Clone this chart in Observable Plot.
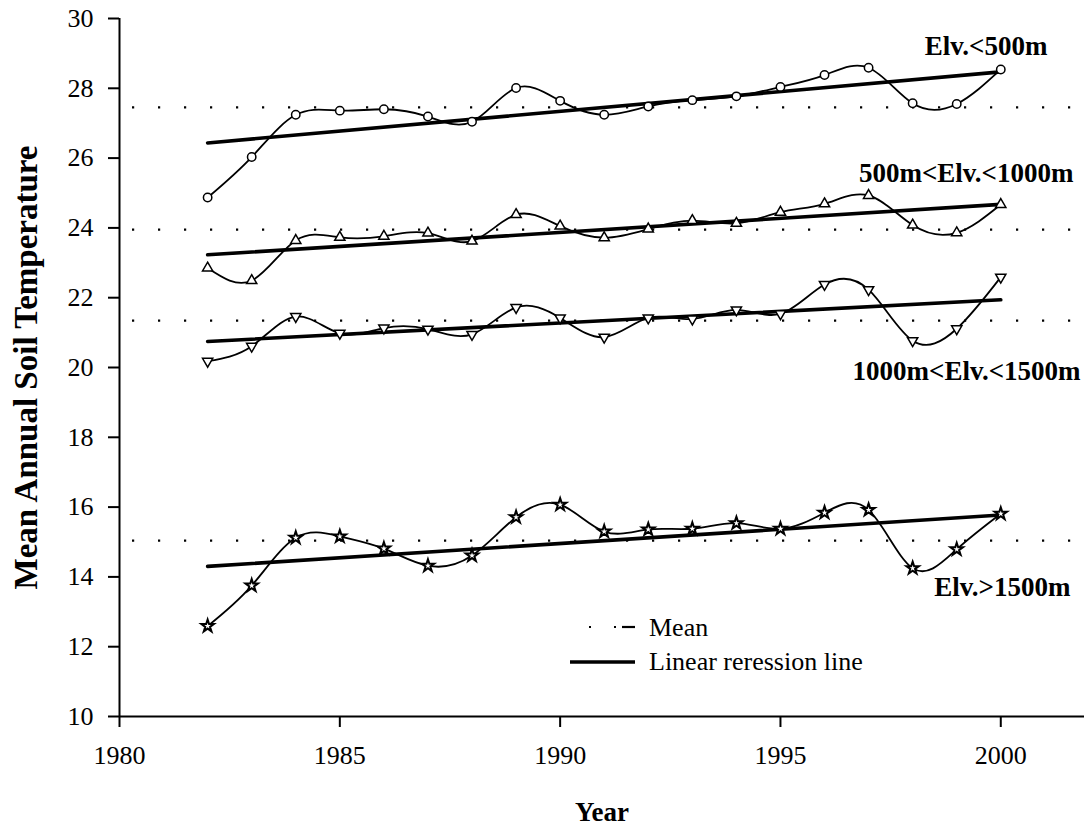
<!DOCTYPE html>
<html>
<head>
<meta charset="utf-8">
<script src="https://cdn.jsdelivr.net/npm/d3@7"></script>
<script src="https://cdn.jsdelivr.net/npm/@observablehq/plot@0.6"></script>
<style>
  html, body { margin: 0; padding: 0; background: #fff; }
  #wrap { position: relative; width: 1084px; height: 832px; }
  #wrap svg g[aria-label*="axis"] { font-size: 26px; }
  #wrap svg g[aria-label*="axis"] text { font-size: 26px; }
  #wrap svg g[aria-label*="axis"] path,
  #wrap svg g[aria-label*="axis"] line { stroke-width: 2px; stroke: #000; }
  #legend { position: absolute; left: 0; top: 0; pointer-events: none; }
</style>
</head>
<body>
<div id="wrap"></div>
<script>
// Survey years
const years = [1982, 1983, 1984, 1985, 1986, 1987, 1988, 1989, 1990, 1991,
               1992, 1993, 1994, 1995, 1996, 1997, 1998, 1999, 2000];

// Mean annual soil temperature (°C) by elevation band
const tempBelow500   = [24.87, 26.03, 27.24, 27.36, 27.40, 27.19, 27.04, 28.01, 27.64, 27.24,
                        27.48, 27.66, 27.77, 28.04, 28.38, 28.59, 27.57, 27.55, 28.54];
const temp500to1000  = [22.85, 22.49, 23.64, 23.73, 23.76, 23.85, 23.62, 24.38, 24.05, 23.72,
                        23.97, 24.21, 24.13, 24.45, 24.69, 24.93, 24.08, 23.86, 24.67];
const temp1000to1500 = [20.18, 20.61, 21.46, 20.98, 21.13, 21.10, 20.95, 21.72, 21.42, 20.87,
                        21.42, 21.39, 21.65, 21.54, 22.38, 22.23, 20.77, 21.11, 22.59];
const tempAbove1500  = [12.59, 13.75, 15.12, 15.16, 14.81, 14.32, 14.61, 15.71, 16.07, 15.30,
                        15.36, 15.38, 15.54, 15.38, 15.84, 15.92, 14.25, 14.79, 15.81];

const seriesNames = ["Elv.<500m", "500m<Elv.<1000m", "1000m<Elv.<1500m", "Elv.>1500m"];

// Where each band's name sits (year, temperature)
const labelYear  = [2001.06, 2001.65, 2001.81, 2001.58];
const labelValue = [29.19, 25.56, 19.90, 13.69];

const xTicks = [1980, 1985, 1990, 1995, 2000];
const yTicks = [10, 12, 14, 16, 18, 20, 22, 24, 26, 28, 30];

// Downward-pointing triangle marker
const triangleDown = {
  draw(context, size) {
    const h = Math.sqrt(size / (Math.sqrt(3) * 3));
    context.moveTo(0, 2 * h);
    context.lineTo(-Math.sqrt(3) * h, -h);
    context.lineTo(Math.sqrt(3) * h, -h);
    context.closePath();
  }
};

const seriesValues = [tempBelow500, temp500to1000, temp1000to1500, tempAbove1500];
const symbols = ["circle", "triangle", triangleDown, "star"];
const radii = [4.2, 3.8, 3.8, 3.9];
const markerStroke = [1.5, 1.5, 1.5, 2];

const rows = seriesValues.flatMap((vals, s) =>
  years.map((year, i) => ({series: seriesNames[s], year, value: vals[i]})));
const means = seriesValues.map(vals => d3.mean(vals));
const labels = seriesNames.map((name, i) => ({name, year: labelYear[i], value: labelValue[i]}));

const dotMarks = seriesNames.map((name, s) =>
  Plot.dot(rows.filter(d => d.series === name), {
    x: "year", y: "value",
    symbol: symbols[s], r: radii[s],
    fill: "white", stroke: "black", strokeWidth: markerStroke[s]
  }));

const fontFamily = "'Liberation Serif', 'Times New Roman', serif";
const hasAxisMarks = typeof Plot.axisX === "function";

const axisMarks = hasAxisMarks ? [
  Plot.axisX({ticks: xTicks, tickFormat: d => String(d), tickSize: 11, tickPadding: 18,
              fontSize: 26, strokeWidth: 2, label: null}),
  Plot.axisY({ticks: yTicks, tickSize: 11, tickPadding: 15,
              fontSize: 26, strokeWidth: 2, label: null})
] : [];

const chart = Plot.plot({
  width: 1084,
  height: 832,
  marginLeft: 119,
  marginRight: 0,
  marginTop: 18,
  marginBottom: 116,
  style: {
    fontFamily,
    fontSize: "26px",
    color: "#000",
    background: "#fff",
    overflow: "visible"
  },
  x: Object.assign({domain: [1980, 2001.9], label: null},
      hasAxisMarks ? {} : {ticks: xTicks, tickFormat: d => String(d), tickSize: 11, tickPadding: 18}),
  y: Object.assign({domain: [10, 30], label: null},
      hasAxisMarks ? {} : {ticks: yTicks, tickSize: 11, tickPadding: 15}),
  marks: [
    ...axisMarks,
    // axis lines
    Plot.ruleX([1980], {stroke: "black", strokeWidth: 2}),
    Plot.ruleY([10], {stroke: "black", strokeWidth: 2}),
    // dotted mean levels across the full width
    Plot.ruleY(means, {y: d => d, stroke: "black", strokeWidth: 2.2,
                       strokeDasharray: "2.2 23.8", strokeDashoffset: -13}),
    // fitted linear trends
    Plot.linearRegressionY(rows, {x: "year", y: "value", z: "series", ci: 0,
                                  stroke: "black", strokeWidth: 3.6}),
    // smoothed yearly series
    Plot.line(rows, {x: "year", y: "value", z: "series", curve: "natural",
                     stroke: "black", strokeWidth: 1.8}),
    ...dotMarks,
    Plot.text(labels, {x: "year", y: "value", text: "name", textAnchor: "end",
                       fontSize: 27, fontWeight: "bold", fill: "black"}),
    Plot.text(["Year"], {text: d => d, frameAnchor: "bottom", dy: 104, textAnchor: "middle",
                         fontSize: 27, fontWeight: "bold", fill: "black"}),
    Plot.text(["Mean Annual Soil Temperature"], {text: d => d, frameAnchor: "left",
                         textAnchor: "middle", dx: -93, rotate: -90,
                         fontSize: 33, fontWeight: "bold", fill: "black"})
  ]
});

const wrap = document.getElementById("wrap");
wrap.appendChild(chart);

// Legend for the reference lines
const legend = d3.select(wrap).append("svg")
  .attr("id", "legend")
  .attr("width", 1084).attr("height", 832)
  .attr("font-family", fontFamily)
  .attr("font-size", 26);

const meanSample = legend.append("g").attr("transform", "translate(585,627)");
meanSample.append("rect").attr("x", 4).attr("y", -1).attr("width", 2).attr("height", 2);
meanSample.append("rect").attr("x", 29).attr("y", -1).attr("width", 2).attr("height", 2);
meanSample.append("rect").attr("x", 37).attr("y", -1.1).attr("width", 13).attr("height", 2.2);
legend.append("text").attr("x", 649).attr("y", 636).text("Mean");

legend.append("line").attr("x1", 570).attr("x2", 635).attr("y1", 662).attr("y2", 662)
  .attr("stroke", "black").attr("stroke-width", 3.5);
legend.append("text").attr("x", 649).attr("y", 670).text("Linear reression line");
</script>
</body>
</html>
